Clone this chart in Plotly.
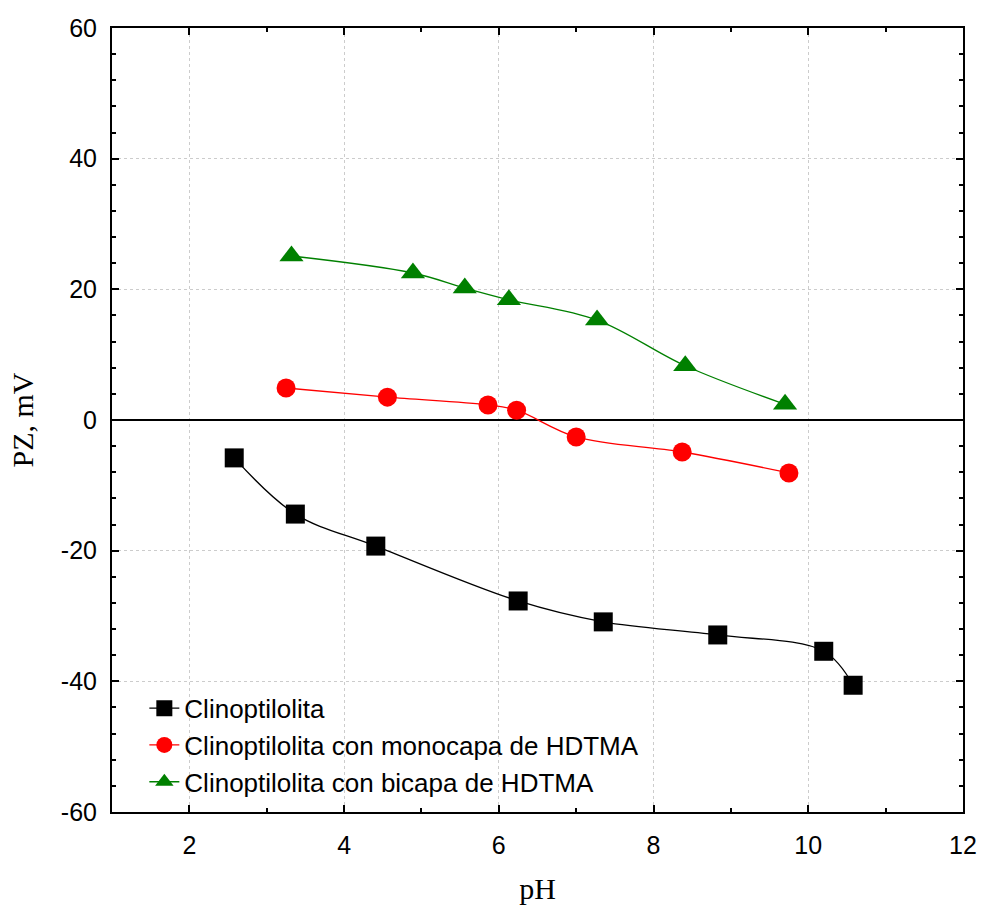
import plotly.graph_objects as go

# Data
ph_clino = [2.58, 3.37, 4.41, 6.25, 7.35, 8.83, 10.20, 10.58]
pz_clino = [-5.8, -14.4, -19.3, -27.7, -30.9, -32.9, -35.4, -40.6]

ph_mono = [3.25, 4.56, 5.86, 6.23, 7.00, 8.37, 9.75]
pz_mono = [4.9, 3.5, 2.3, 1.5, -2.6, -4.9, -8.1]

ph_bi = [3.32, 4.89, 5.56, 6.13, 7.27, 8.41, 9.70]
pz_bi = [25.1, 22.5, 20.2, 18.4, 15.3, 8.3, 2.4]

names = ["Clinoptilolita",
         "Clinoptilolita con monocapa de HDTMA",
         "Clinoptilolita con bicapa de HDTMA"]

x_ticks = [2, 4, 6, 8, 10, 12]
y_ticks = [-60, -40, -20, 0, 20, 40, 60]
y_ticktext = ["-60", "-40", "-20", "0", "20", "40", "60"]

SANS = "Arial, Liberation Sans, sans-serif"
SERIF = "Times New Roman, Liberation Serif, serif"

fig = go.Figure()
fig.add_trace(go.Scatter(
    x=ph_clino, y=pz_clino, name=names[0], mode="lines+markers",
    line=dict(color="black", width=1.3, shape="spline", smoothing=1.0),
    marker=dict(symbol="square", size=19, color="black")))
fig.add_trace(go.Scatter(
    x=ph_mono, y=pz_mono, name=names[1], mode="lines+markers",
    line=dict(color="red", width=1.3, shape="spline", smoothing=1.0),
    marker=dict(symbol="circle", size=19, color="red")))
fig.add_trace(go.Scatter(
    x=ph_bi, y=pz_bi, name=names[2], mode="lines+markers",
    line=dict(color="green", width=1.3, shape="spline", smoothing=1.0),
    marker=dict(symbol="triangle-up", size=21, color="green")))

axis_common = dict(
    showline=True, linecolor="black", linewidth=2, mirror="ticks",
    ticks="inside", ticklen=7, tickwidth=1.5, tickcolor="black",
    showgrid=True, gridcolor="#cccccc", griddash="dot", gridwidth=1,
    tickfont=dict(family=SANS, size=25, color="black"),
    automargin=False,
)

fig.update_xaxes(
    range=[1, 12], tickvals=x_ticks,
    title=dict(text="pH", font=dict(family=SERIF, size=30, color="black"), standoff=20),
    minor=dict(dtick=1, ticklen=4, tickwidth=1.5, tickcolor="black", ticks="inside", showgrid=False),
    zeroline=False, ticklabelstandoff=10,
    **axis_common)
fig.update_yaxes(
    range=[-60, 60], tickvals=y_ticks, ticktext=y_ticktext,
    title=dict(text="PZ, mV", font=dict(family=SERIF, size=30, color="black"), standoff=18),
    minor=dict(dtick=4, ticklen=4, tickwidth=1.5, tickcolor="black", ticks="inside", showgrid=False),
    zeroline=True, zerolinecolor="black", zerolinewidth=2, ticklabelstandoff=8,
    **axis_common)

fig.update_layout(
    width=982, height=907,
    margin=dict(l=112, r=19, t=28, b=95),
    paper_bgcolor="white", plot_bgcolor="white",
    showlegend=True,
    legend=dict(x=0.038, y=0.008, xanchor="left", yanchor="bottom",
                bgcolor="rgba(0,0,0,0)", borderwidth=0,
                font=dict(family=SANS, size=26, color="black"),
                tracegroupgap=0, itemsizing="trace"),
)

fig.write_html("out.html")
